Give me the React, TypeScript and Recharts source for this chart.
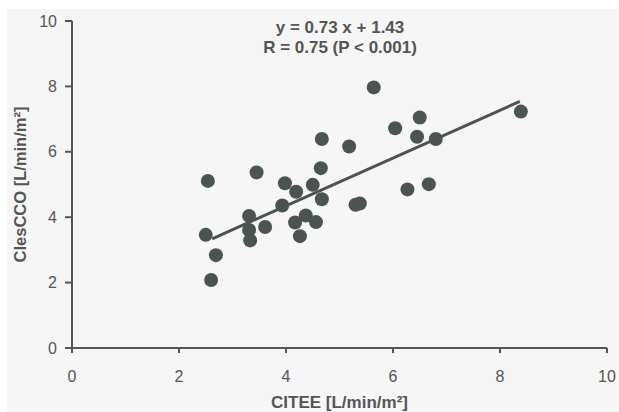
import { Scatter, ScatterChart, XAxis, YAxis } from "recharts";

// CITEE vs ClesCCO, both in L/min/m²
const citee = [
  2.54, 2.5, 2.69, 2.6, 3.31, 3.31, 3.33, 3.61, 3.45, 3.98, 3.93, 4.19, 4.17, 4.26, 4.37, 4.5,
  4.56, 4.65, 4.67, 4.67, 5.18, 5.64, 6.04, 6.45, 6.5, 6.8, 8.39, 6.27, 6.67, 5.3, 5.38,
];
const clescco = [
  5.11, 3.46, 2.84, 2.08, 4.04, 3.61, 3.29, 3.7, 5.37, 5.04, 4.36, 4.78, 3.84, 3.42, 4.05, 4.99,
  3.85, 5.5, 4.55, 6.39, 6.16, 7.97, 6.72, 6.46, 7.05, 6.39, 7.23, 4.85, 5.01, 4.38, 4.42,
];

// fitted line y = 0.73 x + 1.43, drawn over the range of the data
const fitX = [2.62, 8.37];
const fitY = [3.34, 7.54];

const ticks = [0, 2, 4, 6, 8, 10];

const points = citee.map((x, i) => ({ x, y: clescco[i] }));
const fit = fitX.map((x, i) => ({ x, y: fitY[i] }));

const DARK = "#4b5452";
const AXIS = "#555";
const FONT = "'Liberation Sans', Arial, sans-serif";

const Dot = (props: any) => <circle cx={props.cx} cy={props.cy} r={7} fill={DARK} />;
const NoDot = () => <g />;

export default function App() {
  return (
    <div
      style={{
        position: "absolute",
        left: 7,
        top: 9,
        width: 612,
        height: 403,
        background: "#f6f6f6",
        fontFamily: FONT,
      }}
    >
      <ScatterChart width={612} height={403} margin={{ top: 12, right: 12, bottom: 0, left: 0 }}>
        <XAxis
          type="number"
          dataKey="x"
          domain={[0, 10]}
          ticks={ticks}
          height={64}
          stroke={AXIS}
          strokeWidth={2}
          tickSize={5}
          tickMargin={18}
          tick={{ fill: AXIS, fontSize: 16, fontFamily: FONT }}
          label={{
            value: "CITEE [L/min/m²]",
            position: "insideBottom",
            offset: 4,
            style: { fill: AXIS, fontSize: 17, fontWeight: 700, fontFamily: FONT },
          }}
        />
        <YAxis
          type="number"
          dataKey="y"
          domain={[0, 10]}
          ticks={ticks}
          width={65}
          stroke={AXIS}
          strokeWidth={2}
          tickSize={7}
          tickMargin={8}
          tick={{ fill: AXIS, fontSize: 16, fontFamily: FONT }}
          label={{
            value: "ClesCCO [L/min/m²]",
            angle: -90,
            position: "insideLeft",
            offset: 13,
            style: {
              fill: AXIS,
              fontSize: 16.5,
              fontWeight: 700,
              fontFamily: FONT,
              textAnchor: "middle",
            },
          }}
        />
        <Scatter
          data={fit}
          shape={NoDot}
          line={{ stroke: DARK, strokeWidth: 3 }}
          isAnimationActive={false}
        />
        <Scatter data={points} shape={Dot} fill={DARK} isAnimationActive={false} />
      </ScatterChart>
      <div
        style={{
          position: "absolute",
          left: 223,
          top: 9,
          width: 220,
          textAlign: "center",
          color: AXIS,
          fontSize: 17,
          fontWeight: 700,
          lineHeight: "20px",
        }}
      >
        <div>y = 0.73 x + 1.43</div>
        <div>R = 0.75 (P &lt; 0.001)</div>
      </div>
    </div>
  );
}
